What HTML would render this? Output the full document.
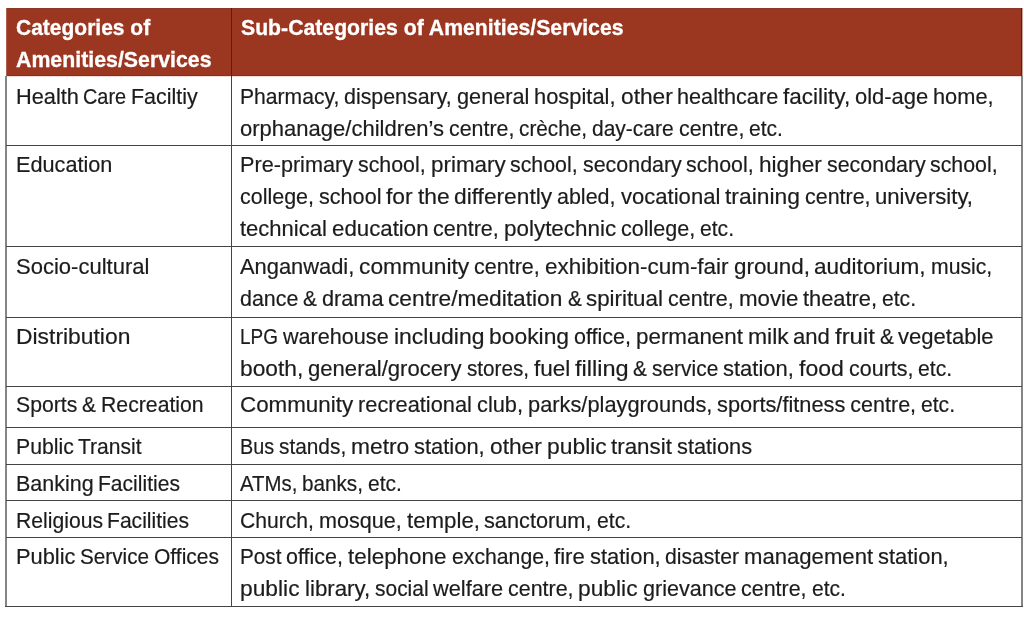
<!DOCTYPE html>
<html lang="en"><head><meta charset="utf-8"><title>Categories of Amenities/Services</title>
<style>
html,body{margin:0;padding:0;background:#fff;}
body{width:1024px;height:619px;position:relative;overflow:hidden;font-family:"Liberation Sans",sans-serif;color:#1c1c1c;}
.hd{position:absolute;left:6px;top:8px;width:1016px;height:68px;background:#9b3620;}
.ln{position:absolute;background:#454545;}
.v{position:absolute;background:#858585;}
.t{position:absolute;white-space:nowrap;transform-origin:0 0;font-kerning:normal;font-size:21.5px;line-height:26px;height:26px;-webkit-text-stroke:0.2px #1c1c1c;}
.t span{position:absolute;top:0;white-space:pre;transform-origin:0 0;}
.b{font-weight:bold;color:#fff;-webkit-text-stroke:0.3px #fff;}
</style></head><body>
<div class="hd"></div>
<div class="ln" style="left:6px;top:8px;width:1016px;height:1px;background:#8c3826"></div>
<div class="ln" style="left:6px;top:75px;width:1016px;height:1px;background:#7d3325"></div>
<div class="ln" style="left:6px;top:76px;width:1016px;height:1px;background:#efdbd5"></div>
<div class="ln" style="left:6px;top:8px;width:1px;height:68px;background:#b0604e"></div>
<div class="ln" style="left:231px;top:8px;width:1px;height:68px;background:#68180f"></div>
<div class="ln" style="left:1021px;top:8px;width:1px;height:68px;background:#522216"></div>
<div class="ln" style="left:1022px;top:8px;width:1px;height:68px;background:#c9a79f"></div>

<div class="v" style="left:5px;top:76px;width:2px;height:531px"></div>
<div class="ln" style="left:231px;top:76px;width:1px;height:531px"></div>
<div class="v" style="left:1021px;top:76px;width:2px;height:531px"></div>
<div class="ln" style="left:6px;top:145px;width:1016px;height:1px"></div>
<div class="ln" style="left:6px;top:246px;width:1016px;height:1px"></div>
<div class="ln" style="left:6px;top:317px;width:1016px;height:1px"></div>
<div class="ln" style="left:6px;top:386px;width:1016px;height:1px"></div>
<div class="ln" style="left:6px;top:427px;width:1016px;height:1px"></div>
<div class="ln" style="left:6px;top:464px;width:1016px;height:1px"></div>
<div class="ln" style="left:6px;top:500px;width:1016px;height:1px"></div>
<div class="ln" style="left:6px;top:537px;width:1016px;height:1px"></div>
<div class="ln" style="left:5px;top:606px;width:1018px;height:1px"></div>
<div class="t b" id="t0" style="left:16.00px;top:15px;transform:scaleX(0.9767);">Categories of</div>
<div class="t b" id="t1" style="left:16.00px;top:47px;transform:scaleX(0.9916);">Amenities/Services</div>
<div class="t b" id="t2" style="left:241.00px;top:15px;transform:scaleX(0.9870);">Sub-Categories of Amenities/Services</div>
<div class="t" id="t3" style="left:15.6px;top:84px;"><span style="left:0.00px;transform:scaleX(1.0121)">Health </span><span style="left:67.74px;transform:scaleX(0.9252)">Care </span><span style="left:115.71px;transform:scaleX(0.9968)">Faciltiy</span></div>
<div class="t" id="t4" style="left:240.2px;top:84px;"><span style="left:0.00px;transform:scaleX(0.9819)">Pharmacy, </span><span style="left:104.20px;transform:scaleX(0.9937)">dispensary, </span><span style="left:216.73px;transform:scaleX(1.0091)">general </span><span style="left:293.98px;transform:scaleX(1.0176)">hospital, </span><span style="left:380.34px;transform:scaleX(1.0573)">other </span><span style="left:437.01px;transform:scaleX(1.0077)">healthcare </span><span style="left:543.04px;transform:scaleX(1.0482)">facility, </span><span style="left:615.11px;transform:scaleX(1.0209)">old-age </span><span style="left:693.20px;transform:scaleX(1.0139)">home,</span></div>
<div class="t" id="t5" style="left:240.2px;top:116px;"><span style="left:0.00px;transform:scaleX(1.0239)">orphanage/children’s </span><span style="left:208.83px;transform:scaleX(0.9957)">centre, </span><span style="left:279.12px;transform:scaleX(0.9660)">crèche, </span><span style="left:352.08px;transform:scaleX(0.9765)">day-care </span><span style="left:438.60px;transform:scaleX(0.9957)">centre, </span><span style="left:508.89px;transform:scaleX(0.9785)">etc.</span></div>
<div class="t" id="t6" style="left:15.6px;top:152px;"><span style="left:0.00px;transform:scaleX(1.0079)">Education</span></div>
<div class="t" id="t7" style="left:240.2px;top:152px;"><span style="left:0.00px;transform:scaleX(1.0064)">Pre-primary </span><span style="left:117.90px;transform:scaleX(0.9932)">school, </span><span style="left:190.44px;transform:scaleX(1.0416)">primary </span><span style="left:269.98px;transform:scaleX(0.9932)">school, </span><span style="left:342.52px;transform:scaleX(0.9959)">secondary </span><span style="left:446.19px;transform:scaleX(0.9932)">school, </span><span style="left:518.73px;transform:scaleX(1.0516)">higher </span><span style="left:586.46px;transform:scaleX(0.9959)">secondary </span><span style="left:690.14px;transform:scaleX(0.9932)">school,</span></div>
<div class="t" id="t8" style="left:240.2px;top:184px;"><span style="left:0.00px;transform:scaleX(0.9981)">college, </span><span style="left:78.81px;transform:scaleX(1.0048)">school </span><span style="left:146.11px;transform:scaleX(1.0636)">for </span><span style="left:177.65px;transform:scaleX(1.0604)">the </span><span style="left:214.19px;transform:scaleX(1.0571)">differently </span><span style="left:317.16px;transform:scaleX(0.9980)">abled, </span><span style="left:380.48px;transform:scaleX(1.0259)">vocational </span><span style="left:484.66px;transform:scaleX(1.0620)">training </span><span style="left:564.38px;transform:scaleX(0.9977)">centre, </span><span style="left:634.81px;transform:scaleX(1.0294)">university,</span></div>
<div class="t" id="t9" style="left:240.2px;top:216px;"><span style="left:0.00px;transform:scaleX(1.0231)">technical </span><span style="left:91.68px;transform:scaleX(1.0355)">education </span><span style="left:193.09px;transform:scaleX(1.0002)">centre, </span><span style="left:263.69px;transform:scaleX(1.0428)">polytechnic </span><span style="left:380.73px;transform:scaleX(1.0006)">college, </span><span style="left:459.74px;transform:scaleX(0.9829)">etc.</span></div>
<div class="t" id="t10" style="left:15.6px;top:254px;"><span style="left:0.00px;transform:scaleX(1.0242)">Socio-cultural</span></div>
<div class="t" id="t11" style="left:240.2px;top:254px;"><span style="left:0.00px;transform:scaleX(1.0173)">Anganwadi, </span><span style="left:119.19px;transform:scaleX(1.0603)">community </span><span style="left:234.27px;transform:scaleX(1.0011)">centre, </span><span style="left:304.93px;transform:scaleX(1.0452)">exhibition-cum-fair </span><span style="left:493.39px;transform:scaleX(1.0414)">ground, </span><span style="left:574.19px;transform:scaleX(1.0486)">auditorium, </span><span style="left:690.58px;transform:scaleX(0.9854)">music,</span></div>
<div class="t" id="t12" style="left:240.2px;top:286px;"><span style="left:0.00px;transform:scaleX(0.9960)">dance </span><span style="left:63.21px;transform:scaleX(0.9653)">&amp; </span><span style="left:81.91px;transform:scaleX(1.0096)">drama </span><span style="left:148.30px;transform:scaleX(1.0575)">centre/meditation </span><span style="left:327.57px;transform:scaleX(0.9653)">&amp; </span><span style="left:346.26px;transform:scaleX(1.0378)">spiritual </span><span style="left:428.01px;transform:scaleX(0.9992)">centre, </span><span style="left:498.55px;transform:scaleX(1.0370)">movie </span><span style="left:562.88px;transform:scaleX(1.0153)">theatre, </span><span style="left:641.77px;transform:scaleX(0.9820)">etc.</span></div>
<div class="t" id="t13" style="left:15.6px;top:324px;"><span style="left:0.00px;transform:scaleX(1.0637)">Distribution</span></div>
<div class="t" id="t14" style="left:240.2px;top:324px;"><span style="left:0.00px;transform:scaleX(0.8812)">LPG </span><span style="left:42.79px;transform:scaleX(1.0046)">warehouse </span><span style="left:153.33px;transform:scaleX(1.0657)">including </span><span style="left:248.65px;transform:scaleX(1.0629)">booking </span><span style="left:333.59px;transform:scaleX(1.0014)">office, </span><span style="left:395.53px;transform:scaleX(1.0407)">permanent </span><span style="left:507.37px;transform:scaleX(1.0661)">milk </span><span style="left:552.99px;transform:scaleX(1.0256)">and </span><span style="left:594.66px;transform:scaleX(1.1124)">fruit </span><span style="left:639.40px;transform:scaleX(0.9693)">&amp; </span><span style="left:658.18px;transform:scaleX(1.0255)">vegetable</span></div>
<div class="t" id="t15" style="left:240.2px;top:356px;"><span style="left:0.00px;transform:scaleX(1.0595)">booth, </span><span style="left:68.20px;transform:scaleX(1.0271)">general/grocery </span><span style="left:226.50px;transform:scaleX(0.9627)">stores, </span><span style="left:293.49px;transform:scaleX(1.0458)">fuel </span><span style="left:334.62px;transform:scaleX(1.0940)">filling </span><span style="left:393.09px;transform:scaleX(0.9679)">&amp; </span><span style="left:411.84px;transform:scaleX(0.9731)">service </span><span style="left:482.98px;transform:scaleX(1.0212)">station, </span><span style="left:558.64px;transform:scaleX(1.0712)">food </span><span style="left:608.35px;transform:scaleX(0.9989)">courts, </span><span style="left:677.68px;transform:scaleX(0.9847)">etc.</span></div>
<div class="t" id="t16" style="left:15.6px;top:392px;"><span style="left:0.00px;transform:scaleX(0.9860)">Sports </span><span style="left:66.14px;transform:scaleX(0.9697)">&amp; </span><span style="left:84.93px;transform:scaleX(0.9874)">Recreation</span></div>
<div class="t" id="t17" style="left:240.2px;top:392px;"><span style="left:0.00px;transform:scaleX(1.0405)">Community </span><span style="left:117.97px;transform:scaleX(1.0138)">recreational </span><span style="left:236.72px;transform:scaleX(1.0140)">club, </span><span style="left:287.64px;transform:scaleX(1.0151)">parks/playgrounds, </span><span style="left:476.91px;transform:scaleX(1.0136)">sports/fitness </span><span style="left:610.16px;transform:scaleX(1.0000)">centre, </span><span style="left:680.74px;transform:scaleX(0.9827)">etc.</span></div>
<div class="t" id="t18" style="left:15.6px;top:434px;"><span style="left:0.00px;transform:scaleX(0.9883)">Public </span><span style="left:62.65px;transform:scaleX(0.9789)">Transit</span></div>
<div class="t" id="t19" style="left:240.2px;top:434px;"><span style="left:0.00px;transform:scaleX(0.9208)">Bus </span><span style="left:38.98px;transform:scaleX(0.9689)">stands, </span><span style="left:111.02px;transform:scaleX(1.0599)">metro </span><span style="left:174.14px;transform:scaleX(1.0199)">station, </span><span style="left:249.70px;transform:scaleX(1.0581)">other </span><span style="left:306.42px;transform:scaleX(1.0634)">public </span><span style="left:371.03px;transform:scaleX(1.0394)">transit </span><span style="left:436.76px;transform:scaleX(1.0125)">stations</span></div>
<div class="t" id="t20" style="left:15.6px;top:471px;"><span style="left:0.00px;transform:scaleX(0.9992)">Banking </span><span style="left:82.49px;transform:scaleX(0.9794)">Facilities</span></div>
<div class="t" id="t21" style="left:240.2px;top:471px;"><span style="left:0.00px;transform:scaleX(0.9468)">ATMs, </span><span style="left:62.12px;transform:scaleX(0.9625)">banks, </span><span style="left:127.94px;transform:scaleX(0.9771)">etc.</span></div>
<div class="t" id="t22" style="left:15.6px;top:508px;"><span style="left:0.00px;transform:scaleX(0.9836)">Religious </span><span style="left:91.84px;transform:scaleX(0.9811)">Facilities</span></div>
<div class="t" id="t23" style="left:240.2px;top:508px;"><span style="left:0.00px;transform:scaleX(0.9829)">Church, </span><span style="left:78.88px;transform:scaleX(1.0027)">mosque, </span><span style="left:166.44px;transform:scaleX(1.0353)">temple, </span><span style="left:244.31px;transform:scaleX(1.0105)">sanctorum, </span><span style="left:356.65px;transform:scaleX(0.9853)">etc.</span></div>
<div class="t" id="t24" style="left:15.6px;top:544px;"><span style="left:0.00px;transform:scaleX(1.0144)">Public </span><span style="left:64.30px;transform:scaleX(0.9623)">Service </span><span style="left:138.20px;transform:scaleX(0.9772)">Offices</span></div>
<div class="t" id="t25" style="left:240.2px;top:544px;"><span style="left:0.00px;transform:scaleX(0.9627)">Post </span><span style="left:46.28px;transform:scaleX(0.9984)">office, </span><span style="left:108.03px;transform:scaleX(1.0426)">telephone </span><span style="left:211.37px;transform:scaleX(0.9863)">exchange, </span><span style="left:314.09px;transform:scaleX(1.0308)">fire </span><span style="left:349.74px;transform:scaleX(1.0196)">station, </span><span style="left:425.28px;transform:scaleX(0.9832)">disaster </span><span style="left:504.17px;transform:scaleX(1.0286)">management </span><span style="left:638.11px;transform:scaleX(1.0196)">station,</span></div>
<div class="t" id="t26" style="left:240.2px;top:576px;"><span style="left:0.00px;transform:scaleX(1.0599)">public </span><span style="left:64.40px;transform:scaleX(1.0358)">library, </span><span style="left:134.41px;transform:scaleX(0.9745)">social </span><span style="left:192.82px;transform:scaleX(1.0134)">welfare </span><span style="left:267.91px;transform:scaleX(0.9973)">centre, </span><span style="left:338.31px;transform:scaleX(1.0599)">public </span><span style="left:402.70px;transform:scaleX(1.0016)">grievance </span><span style="left:500.93px;transform:scaleX(0.9973)">centre, </span><span style="left:571.33px;transform:scaleX(0.9801)">etc.</span></div>
</body></html>
